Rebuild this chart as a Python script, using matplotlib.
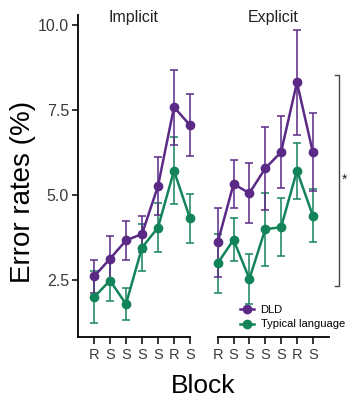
import matplotlib
matplotlib.use("Agg")
import matplotlib.pyplot as plt
from matplotlib.lines import Line2D

plt.rcParams["font.family"] = ["Liberation Sans", "DejaVu Sans"]

# ── Data ─────────────────────────────────────────────────────────────────────
blocks = ["R", "S", "S", "S", "S", "R", "S"]
conditions = ["Implicit", "Explicit"]

dld_implicit = [2.60, 3.12, 3.66, 3.85, 5.26, 7.58, 7.05]
dld_implicit_se = [0.49, 0.68, 0.58, 0.54, 0.84, 1.10, 0.92]
td_implicit = [1.99, 2.48, 1.79, 3.45, 4.04, 5.71, 4.31]
td_implicit_se = [0.77, 0.59, 0.46, 0.68, 0.72, 0.99, 0.73]

dld_explicit = [3.60, 5.32, 5.05, 5.78, 6.26, 8.31, 6.26]
dld_explicit_se = [1.02, 0.72, 0.88, 1.21, 1.05, 1.55, 1.16]
td_explicit = [2.99, 3.68, 2.53, 3.99, 4.05, 5.71, 4.39]
td_explicit_se = [0.87, 0.63, 0.73, 1.07, 0.85, 0.82, 0.78]

yticks = [2.5, 5.0, 7.5, 10.0]
bracket_lo, bracket_hi = 2.33, 8.53

PURPLE = "#5b2a86"
GREEN = "#13845a"
TICK_GREY = "#3a3a3a"

W, H = 348, 400
fig = plt.figure(figsize=(W / 100, H / 100), dpi=100)

ylo, yhi = 0.82, 10.3
ppu = 34.0  # pixels per y unit
ax_h = (yhi - ylo) * ppu / H
ax_b = (H - 337) / H

ax_l = fig.add_axes([78 / W, ax_b, 112 / W, ax_h])
ax_r = fig.add_axes([201.85 / W, ax_b, 126.8 / W, ax_h])

x = list(range(1, len(blocks) + 1))

for ax, dld, dld_se, td, td_se in [
    (ax_l, dld_implicit, dld_implicit_se, td_implicit, td_implicit_se),
    (ax_r, dld_explicit, dld_explicit_se, td_explicit, td_explicit_se),
]:
    for vals, se, col in [(td, td_se, GREEN), (dld, dld_se, PURPLE)]:
        ax.errorbar(x, vals, yerr=se, color=col, lw=1.8, marker="o", ms=6,
                    elinewidth=1.1, capsize=3.2, capthick=1.1, clip_on=False)
    ax.set_ylim(ylo, yhi)
    ax.set_xticks(x)
    ax.set_xticklabels(blocks, fontsize=10.5, color=TICK_GREY)
    ax.tick_params(axis="x", length=5, width=1.1, pad=3)
    for s in ["top", "right"]:
        ax.spines[s].set_visible(False)
    ax.spines["bottom"].set_linewidth(1.3)
    ax.patch.set_alpha(0)

ax_l.set_xlim(0, 7)
ax_l.set_yticks(yticks)
ax_l.set_yticklabels([f"{v:.1f}" for v in yticks], fontsize=11.5, color=TICK_GREY)
ax_l.tick_params(axis="y", length=4.5, width=1.1, pad=2)
ax_l.spines["left"].set_linewidth(1.3)

ax_r.set_xlim(0, 8)
ax_r.spines["left"].set_visible(False)
ax_r.spines["bottom"].set_bounds(1, 8)
ax_r.set_yticks([])

# facet titles
fig.text(134 / W, 1 - 17.5 / H, conditions[0], ha="center", va="center",
         fontsize=11.5, color="#222222")
fig.text(273 / W, 1 - 17.5 / H, conditions[1], ha="center", va="center",
         fontsize=11.5, color="#222222")

# significance bracket
bx = 8.67
ax_r.plot([bx - 0.3, bx, bx, bx - 0.3], [bracket_hi, bracket_hi, bracket_lo, bracket_lo],
          color="#444444", lw=1.0, clip_on=False)
ax_r.text(bx + 0.33, (bracket_lo + bracket_hi) / 2, "*", ha="center", va="center",
          fontsize=10, color="#222222")

# legend
handles = [
    Line2D([], [], color=PURPLE, marker="o", ms=6, lw=1.8),
    Line2D([], [], color=GREEN, marker="o", ms=6, lw=1.8),
]
fig.legend(handles, ["DLD", "Typical language"], loc="upper left",
           bbox_to_anchor=(239.5 / W, 1 - 305 / H), frameon=False, fontsize=8,
           handlelength=1.3, handletextpad=0.6, labelspacing=0.4,
           borderpad=0, borderaxespad=0)

fig.text(23 / W, 1 - 192 / H, "Error rates (%)", rotation=90, ha="center",
         va="center", fontsize=20)
fig.text(203 / W, 1 - 386 / H, "Block", ha="center", va="center", fontsize=19)

fig.savefig("out.png", dpi=100)
